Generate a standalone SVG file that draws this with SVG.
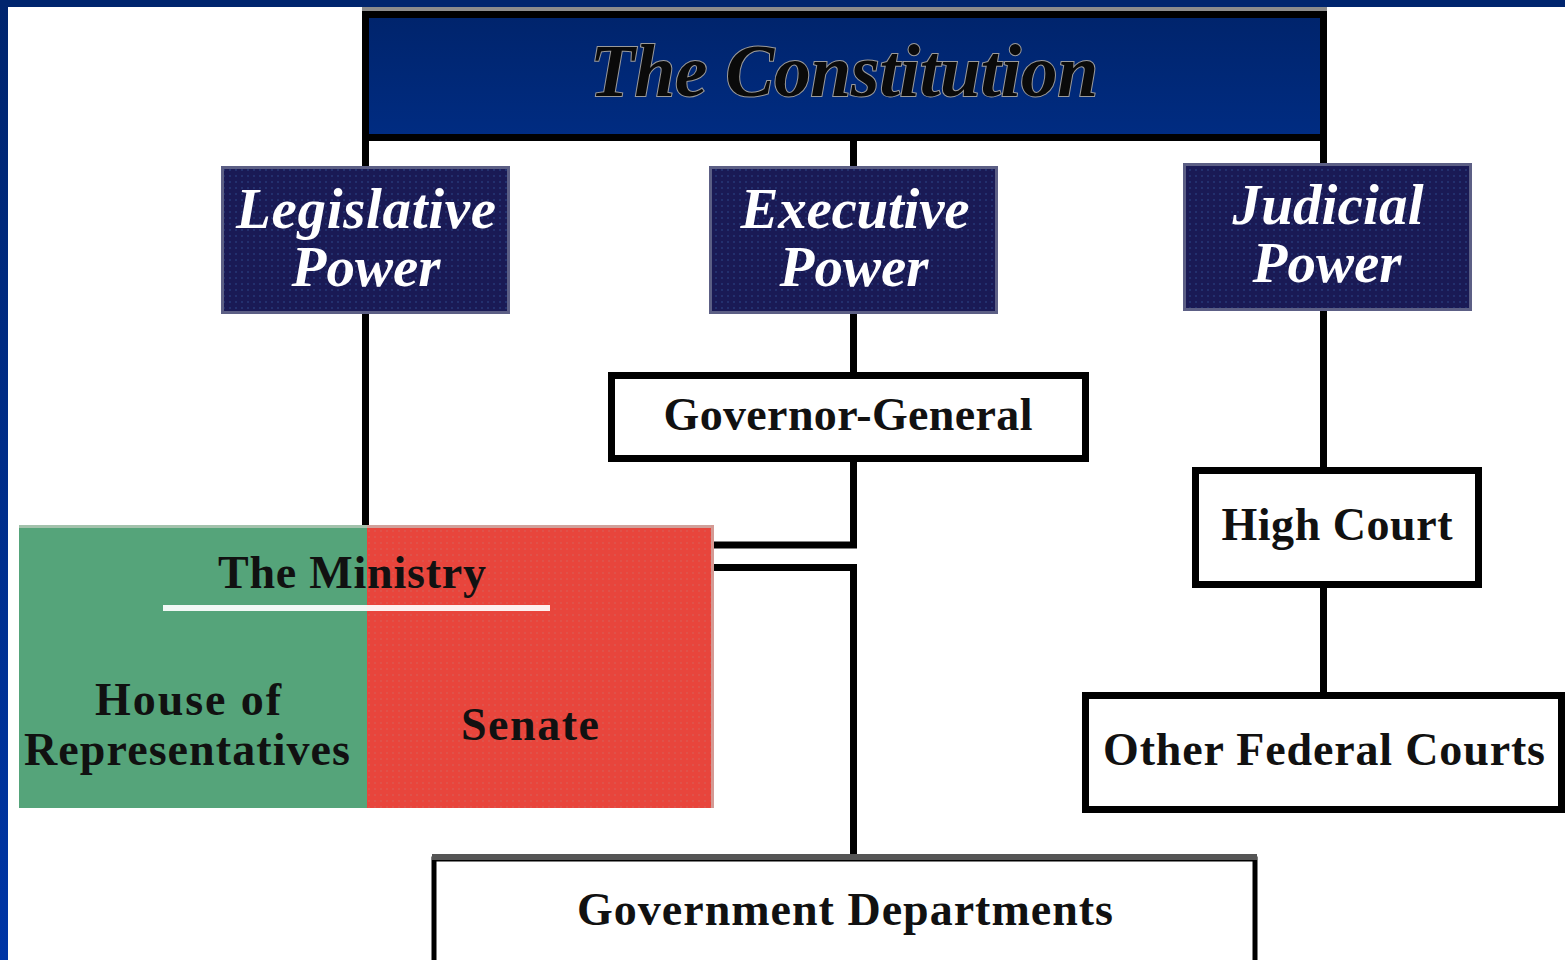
<svg xmlns="http://www.w3.org/2000/svg" width="1565" height="960" viewBox="0 0 1565 960">
<defs>
<linearGradient id="side" x1="0" y1="0" x2="0" y2="1">
<stop offset="0" stop-color="#00256e"/>
<stop offset="1" stop-color="#0036a6"/>
</linearGradient>
<linearGradient id="const" x1="0" y1="0" x2="0" y2="1">
<stop offset="0" stop-color="#00246c"/>
<stop offset="1" stop-color="#002c82"/>
</linearGradient>
<pattern id="dots" width="6" height="6" patternUnits="userSpaceOnUse">
<rect width="6" height="6" fill="#1a1a55"/>
<rect x="1" y="1" width="2" height="2" fill="#23306e"/>
</pattern>
<pattern id="reddots" width="6" height="6" patternUnits="userSpaceOnUse">
<rect width="6" height="6" fill="#e8453c"/>
<rect x="2" y="2" width="2" height="2" fill="#e0524a"/>
</pattern>
</defs>
<style>
.conn{stroke:#000;stroke-width:7;fill:none}
.power{fill:url(#dots);stroke:#5c5f85;stroke-width:3}
.ptxt{font-family:"Liberation Serif",serif;font-weight:bold;font-style:italic;font-size:57px;fill:#fff;text-anchor:middle}
.wbox{fill:#fff;stroke:#000;stroke-width:7}
.btxt{font-family:"Liberation Serif",serif;font-weight:bold;font-size:46px;fill:#111;text-anchor:middle}
</style>
<rect width="1565" height="960" fill="#fff"/>
<rect x="0" y="0" width="8" height="960" fill="url(#side)"/>
<rect x="0" y="0" width="1565" height="7" fill="#00256e"/>

<g id="connectors">
<line class="conn" x1="365.5" y1="138" x2="365.5" y2="167"/>
<line class="conn" x1="853.5" y1="138" x2="853.5" y2="167"/>
<line class="conn" x1="1323.5" y1="138" x2="1323.5" y2="164"/>
<line class="conn" x1="365.5" y1="313" x2="365.5" y2="526"/>
<line class="conn" x1="853.5" y1="313" x2="853.5" y2="373"/>
<line class="conn" x1="1323.5" y1="311" x2="1323.5" y2="468"/>
<polyline class="conn" points="853.5,461 853.5,545 713,545"/>
<polyline class="conn" points="713,567.5 853.5,567.5 853.5,856"/>
<line class="conn" x1="1323.5" y1="587" x2="1323.5" y2="693"/>
</g>

<g id="constitution">
<rect x="362" y="7" width="965" height="4" fill="#8c8c8c"/>
<rect x="365.5" y="14.5" width="958" height="123" fill="url(#const)" stroke="#000" stroke-width="7"/>
<text x="844" y="96" font-family="Liberation Serif, serif" font-weight="bold" font-style="italic" font-size="73" fill="#0a0a0a" stroke="#9a9a9a" stroke-width="2" paint-order="stroke" text-anchor="middle" textLength="508">The Constitution</text>
</g>

<g id="legislative">
<rect class="power" x="222.5" y="167.5" width="286" height="145"/>
<text class="ptxt" x="366" y="228" textLength="260">Legislative</text>
<text class="ptxt" x="366" y="286">Power</text>
</g>

<g id="executive">
<rect class="power" x="710.5" y="167.5" width="286" height="145"/>
<text class="ptxt" x="855" y="228" textLength="229">Executive</text>
<text class="ptxt" x="854" y="286">Power</text>
</g>

<g id="judicial">
<rect class="power" x="1184.5" y="164.5" width="286" height="145"/>
<text class="ptxt" x="1328" y="224" textLength="191">Judicial</text>
<text class="ptxt" x="1327" y="282">Power</text>
</g>

<g id="governor-general">
<rect class="wbox" x="611.5" y="375.5" width="474" height="83"/>
<text class="btxt" x="848" y="430" textLength="369">Governor-General</text>
</g>

<g id="ministry">
<rect x="19" y="525" width="348" height="283" fill="#55a47a"/>
<rect x="367" y="525" width="347" height="283" fill="url(#reddots)"/>
<rect x="19" y="525" width="348" height="3" fill="#a3c2ac"/>
<rect x="367" y="525" width="347" height="3" fill="#d0a19b"/>
<rect x="711" y="525" width="3" height="283" fill="#d49a94"/>
<text class="btxt" x="352" y="588" textLength="268">The Ministry</text>
<rect x="163" y="605" width="387" height="6" fill="#fff" opacity="0.92"/>
<text class="btxt" x="188" y="715" textLength="186">House of</text>
<text class="btxt" x="187" y="765" textLength="326">Representatives</text>
<text class="btxt" x="530" y="740" textLength="138">Senate</text>
</g>

<g id="high-court">
<rect class="wbox" x="1195.5" y="470.5" width="283" height="114"/>
<text class="btxt" x="1337" y="540" textLength="231">High Court</text>
</g>

<g id="other-federal-courts">
<rect class="wbox" x="1085.5" y="695.5" width="476" height="114"/>
<text class="btxt" x="1324" y="765" textLength="442">Other Federal Courts</text>
</g>

<g id="government-departments">
<rect x="434" y="859" width="821" height="110" fill="#fff" stroke="#000" stroke-width="5"/>
<rect x="432" y="854" width="825" height="6" fill="#555"/>
<text class="btxt" x="845" y="925" textLength="536">Government Departments</text>
</g>
</svg>
